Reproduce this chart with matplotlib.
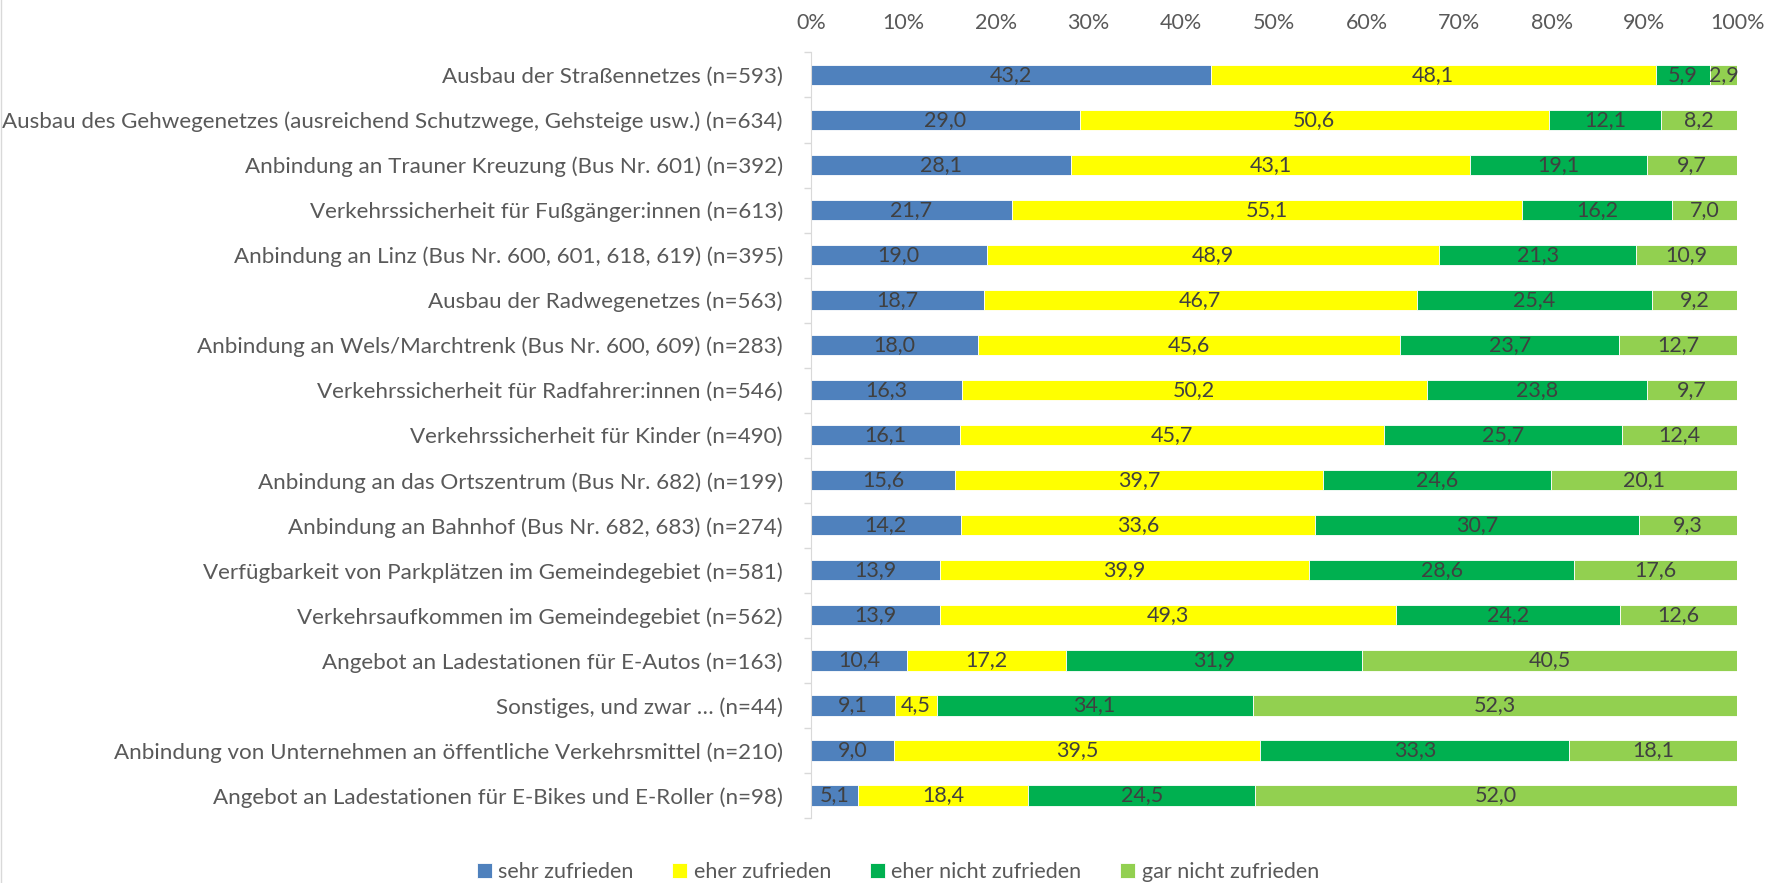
import numpy as np
import matplotlib
matplotlib.use('Agg')
import matplotlib.pyplot as plt

plt.rcParams['font.family'] = ['Lato', 'DejaVu Sans']

# categories, top to bottom
categories = [
    'Ausbau der Straßennetzes (n=593)',
    'Ausbau des Gehwegenetzes (ausreichend Schutzwege, Gehsteige usw.) (n=634)',
    'Anbindung an Trauner Kreuzung (Bus Nr. 601) (n=392)',
    'Verkehrssicherheit für Fußgänger:innen (n=613)',
    'Anbindung an Linz (Bus Nr. 600, 601, 618, 619) (n=395)',
    'Ausbau der Radwegenetzes (n=563)',
    'Anbindung an Wels/Marchtrenk (Bus Nr. 600, 609) (n=283)',
    'Verkehrssicherheit für Radfahrer:innen (n=546)',
    'Verkehrssicherheit für Kinder (n=490)',
    'Anbindung an das Ortszentrum (Bus Nr. 682) (n=199)',
    'Anbindung an Bahnhof (Bus Nr. 682, 683) (n=274)',
    'Verfügbarkeit von Parkplätzen im Gemeindegebiet (n=581)',
    'Verkehrsaufkommen im Gemeindegebiet (n=562)',
    'Angebot an Ladestationen für E-Autos (n=163)',
    'Sonstiges, und zwar … (n=44)',
    'Anbindung von Unternehmen an öffentliche Verkehrsmittel (n=210)',
    'Angebot an Ladestationen für E-Bikes und E-Roller (n=98)',
]

sehr_zufrieden = [43.2, 29.0, 28.1, 21.7, 19.0, 18.7, 18.0, 16.3, 16.1, 15.6, 14.2, 13.9, 13.9, 10.4, 9.1, 9.0, 5.1]
eher_zufrieden = [48.1, 50.6, 43.1, 55.1, 48.9, 46.7, 45.6, 50.2, 45.7, 39.7, 33.6, 39.9, 49.3, 17.2, 4.5, 39.5, 18.4]
eher_nicht_zufrieden = [5.9, 12.1, 19.1, 16.2, 21.3, 25.4, 23.7, 23.8, 25.7, 24.6, 30.7, 28.6, 24.2, 31.9, 34.1, 33.3, 24.5]
gar_nicht_zufrieden = [2.9, 8.2, 9.7, 7.0, 10.9, 9.2, 12.7, 9.7, 12.4, 20.1, 9.3, 17.6, 12.6, 40.5, 52.3, 18.1, 52.0]

series = [sehr_zufrieden, eher_zufrieden, eher_nicht_zufrieden, gar_nicht_zufrieden]
labels = ['sehr zufrieden', 'eher zufrieden', 'eher nicht zufrieden', 'gar nicht zufrieden']
colors = ['#4F81BD', '#FFFF00', '#00B050', '#92D050']

values = np.array(series)
shares = values / values.sum(axis=0) * 100  # 100% stacked like Excel

fig = plt.figure(figsize=(17.78, 8.83), dpi=100)
ax = fig.add_axes([0.456, 0.0736, 0.521, 0.867])

fs = 15.5
y = np.arange(len(categories))
left = np.zeros(len(categories))
for i in range(len(series)):
    bars = ax.barh(y, shares[i], left=left, height=0.45, color=colors[i],
                   edgecolor='white', linewidth=0.6, label=labels[i])
    ax.bar_label(bars, labels=[f'{v:.1f}'.replace('.', ',') for v in values[i]],
                 label_type='center', color='#404040', fontsize=fs)
    left += shares[i]

ax.set_xlim(0, 100)
ax.set_ylim(len(categories) - 0.5, -0.5)
ax.set_yticks(y)
ax.set_yticklabels(categories)
ax.set_yticks(np.arange(len(categories) + 1) - 0.5, minor=True)
ax.set_xticks(np.arange(0, 101, 10))
ax.set_xticklabels([f'{t}%' for t in range(0, 101, 10)])
ax.xaxis.tick_top()

ax.tick_params(axis='x', length=0, pad=14, labelsize=fs, colors='#595959')
ax.tick_params(axis='y', which='major', length=0, pad=20, labelsize=16.1, colors='#595959')
ax.tick_params(axis='y', which='minor', length=5, color='#D9D9D9', width=1)

for s in ['top', 'right', 'bottom']:
    ax.spines[s].set_visible(False)
ax.spines['left'].set_color('#D9D9D9')

fig.legend(loc='lower center', bbox_to_anchor=(0.505, -0.021), ncol=4, frameon=False,
           fontsize=fs, labelcolor='#595959', handlelength=0.7, handleheight=0.7,
           handletextpad=0.3, columnspacing=1.8)

fig.add_artist(plt.Line2D([0.0005, 0.0005], [0, 1], color='#D9D9D9', linewidth=1))

fig.savefig('out.png', dpi=100)
